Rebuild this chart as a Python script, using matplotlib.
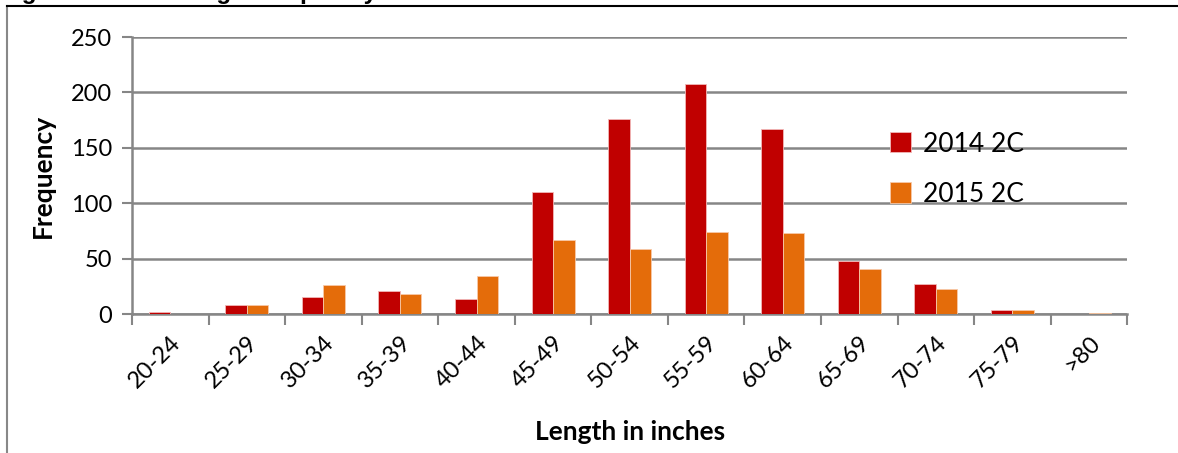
import matplotlib
matplotlib.use("Agg")
import matplotlib.pyplot as plt
import numpy as np
from matplotlib.lines import Line2D

# length classes and counts
categories = ["20-24", "25-29", "30-34", "35-39", "40-44", "45-49", "50-54",
              "55-59", "60-64", "65-69", "70-74", "75-79", ">80"]
freq2014 = [2, 8, 15, 21, 14, 110, 176, 208, 167, 48, 27, 4, 0]
freq2015 = [0, 8, 26, 18, 34, 67, 59, 74, 73, 41, 23, 4, 1]
series_names = ["2014 2C", "2015 2C"]
yticks = [0, 50, 100, 150, 200, 250]

plt.rcParams['font.family'] = ['Lato', 'DejaVu Sans']

fig = plt.figure(figsize=(11.78, 4.53), dpi=100)
ax = fig.add_axes([0.112, 0.3068, 0.845, 0.6115])

x = np.arange(len(categories))
w = 0.28
ax.bar(x - w/2, freq2014, w, color="#C00000", edgecolor="#f2b8b8", linewidth=0.6,
       label=series_names[0], zorder=3)
ax.bar(x + w/2, freq2015, w, color="#E46C0A", edgecolor="#f7c9a8", linewidth=0.6,
       label=series_names[1], zorder=3)

ax.set_xlim(-0.5, len(categories) - 0.5)
ax.set_ylim(0, 250)
ax.set_yticks(yticks)
ax.set_yticklabels([str(v) for v in yticks], fontsize=17)
ax.yaxis.grid(True, color="#868686", linewidth=1.8, zorder=0)
ax.tick_params(axis='y', length=7, width=1.5, color="#868686", pad=7)

ax.set_xticks(x)
ax.set_xticklabels(categories, rotation=45, ha='right', rotation_mode='anchor', fontsize=17)
ax.tick_params(axis='x', which='major', length=0, pad=13)
ax.set_xticks(np.arange(len(categories) + 1) - 0.5, minor=True)
ax.tick_params(axis='x', which='minor', length=8, width=1.5, color="#868686")

for s in ["top", "right"]:
    ax.spines[s].set_visible(False)
for s in ["left", "bottom"]:
    ax.spines[s].set_color("#868686")
    ax.spines[s].set_linewidth(1.8)

ax.set_ylabel("Frequency", fontsize=19, fontweight='bold', labelpad=12)
ax.set_xlabel("Length in inches", fontsize=19, fontweight='bold', labelpad=20)

ax.legend(loc='upper left', bbox_to_anchor=(0.735, 0.762), bbox_transform=fig.transFigure,
          frameon=False, fontsize=19, handlelength=0.8, handleheight=0.8,
          labelspacing=0.95, handletextpad=0.45)

# outer frame and cut-off caption
fig.add_artist(Line2D([0.006, 0.006], [0, 0.987], color="#888888", lw=1.5, transform=fig.transFigure))
fig.add_artist(Line2D([0.006, 1.0], [0.987, 0.987], color="black", lw=1.5, transform=fig.transFigure))
fig.text(0.0, 0.992, "Figure 4-6 GAF length frequency distribution in Area 2C for 2014 and 2015",
         fontsize=17.5, fontweight='bold', family='Liberation Sans', va='bottom', ha='left')

fig.savefig("out.png", dpi=100)
